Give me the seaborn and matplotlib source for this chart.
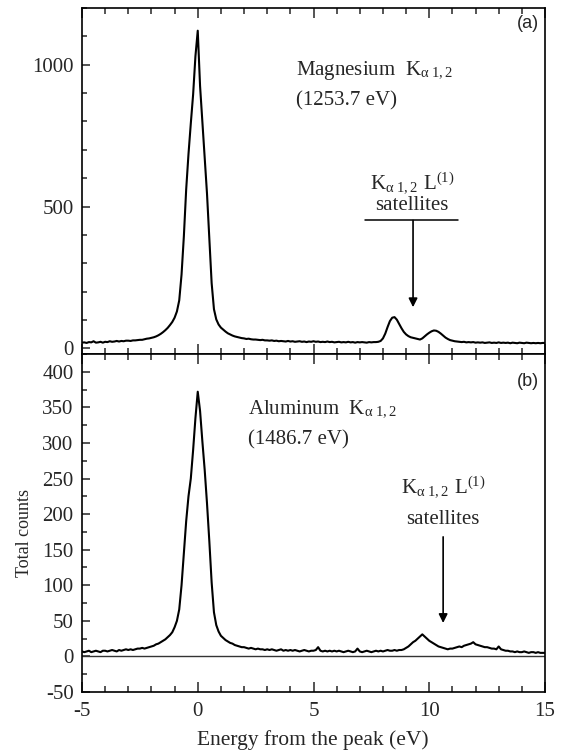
import numpy as np
import pandas as pd
import matplotlib
matplotlib.use("Agg")
import matplotlib.pyplot as plt
from matplotlib.ticker import MultipleLocator
import seaborn as sns

# ---------------- data ----------------
# energy grid (eV from the peak), 0.1 eV sampling from -5 to 15
energy = np.round(np.arange(-50, 151) / 10.0, 1)

# Magnesium K-alpha 1,2 total counts (panel a)
mg_counts = [
    20, 21, 19, 22, 21, 25, 20, 21, 23, 20,      # -5.0 .. -4.1
    23, 22, 25, 23, 24, 26, 24, 26, 25, 27,      # -4.0 .. -3.1
    27, 26, 28, 28, 29, 30, 30, 32, 34, 35,      # -3.0 .. -2.1
    37, 39, 42, 46, 51, 57, 64, 72, 82, 93,      # -2.0 .. -1.1
    108, 130, 169, 260, 395, 560, 685, 793, 895, 1030,  # -1.0 .. -0.1
    1120, 925, 800, 680, 545, 390, 230, 138, 102, 84,   # 0.0 .. 0.9
    73, 66, 59, 53, 49, 45, 42, 40, 38, 36,      # 1.0 .. 1.9
    35, 33, 34, 32, 31, 31, 30, 29, 30, 28,      # 2.0 .. 2.9
    28, 27, 28, 26, 27, 25, 26, 25, 24, 26,      # 3.0 .. 3.9
    24, 25, 23, 24, 25, 23, 24, 22, 24, 23,      # 4.0 .. 4.9
    25, 23, 24, 22, 23, 22, 24, 22, 23, 21,      # 5.0 .. 5.9
    22, 23, 21, 22, 21, 23, 21, 22, 20, 22,      # 6.0 .. 6.9
    21, 22, 21, 20, 22, 21, 22, 22, 23, 26,      # 7.0 .. 7.9
    35, 52, 75, 96, 108, 110, 101, 86, 71, 58,   # 8.0 .. 8.9
    49, 43, 39, 37, 35, 33, 31, 35, 42, 49,      # 9.0 .. 9.9
    55, 60, 63, 62, 58, 52, 45, 38, 33, 29,      # 10.0 .. 10.9
    27, 25, 24, 23, 22, 23, 21, 22, 21, 22,      # 11.0 .. 11.9
    20, 21, 20, 21, 19, 20, 21, 19, 20, 19,      # 12.0 .. 12.9
    21, 19, 20, 19, 20, 18, 20, 19, 18, 20,      # 13.0 .. 13.9
    19, 18, 20, 19, 18, 19, 18, 19, 18, 19,      # 14.0 .. 14.9
    19,                                          # 15.0
]

# Aluminum K-alpha 1,2 total counts (panel b)
al_counts = [
    7, 6, 7, 8, 6, 7, 8, 7, 6, 8,                # -5.0 .. -4.1
    8, 7, 8, 9, 8, 7, 9, 8, 9, 10,               # -4.0 .. -3.1
    9, 10, 9, 10, 11, 11, 12, 11, 12, 13,        # -3.0 .. -2.1
    14, 15, 17, 18, 20, 22, 24, 27, 30, 34,      # -2.0 .. -1.1
    41, 50, 66, 100, 145, 190, 225, 250, 290, 335,  # -1.0 .. -0.1
    372, 345, 302, 262, 215, 162, 104, 62, 44, 35,  # 0.0 .. 0.9
    29, 26, 23, 21, 19, 18, 16, 15, 14, 13,      # 1.0 .. 1.9
    13, 12, 11, 12, 11, 10, 11, 10, 10, 9,       # 2.0 .. 2.9
    10, 9, 10, 9, 8, 9, 10, 8, 9, 8,             # 3.0 .. 3.9
    9, 8, 9, 8, 7, 8, 9, 8, 7, 8,                # 4.0 .. 4.9
    8, 9, 13, 8, 7, 8, 7, 8, 7, 8,               # 5.0 .. 5.9
    7, 8, 7, 6, 7, 8, 7, 6, 7, 11,               # 6.0 .. 6.9
    7, 6, 7, 8, 7, 6, 7, 8, 7, 8,                # 7.0 .. 7.9
    7, 8, 9, 8, 8, 9, 8, 9, 9, 10,               # 8.0 .. 8.9
    12, 14, 17, 20, 22, 25, 28, 31, 28, 25,      # 9.0 .. 9.9
    22, 20, 18, 16, 14, 13, 12, 11, 10, 11,      # 10.0 .. 10.9
    11, 12, 13, 14, 13, 15, 16, 17, 18, 20,      # 11.0 .. 11.9
    17, 16, 15, 14, 13, 13, 12, 11, 11, 10,      # 12.0 .. 12.9
    14, 10, 9, 8, 8, 7, 7, 6, 7, 6,              # 13.0 .. 13.9
    6, 7, 6, 5, 6, 6, 5, 6, 5, 5,                # 14.0 .. 14.9
    5,                                           # 15.0
]

x_ticks = [-5, 0, 5, 10, 15]
x_ticklabels = ["-5", "0", "5", "10", "15"]
top_yticks = [0, 500, 1000]
bottom_yticks = [-50, 0, 50, 100, 150, 200, 250, 300, 350, 400]

df_mg = pd.DataFrame({"energy": energy, "counts": mg_counts})
df_al = pd.DataFrame({"energy": energy, "counts": al_counts})

# ---------------- style ----------------
sns.set_style("ticks")
plt.rcParams["font.family"] = ["Liberation Serif", "DejaVu Serif"]
plt.rcParams["mathtext.fontset"] = "stix"
plt.rcParams["axes.unicode_minus"] = False

W, H = 567, 753
fig = plt.figure(figsize=(W / 100, H / 100), dpi=100)

left, right = 82, 545
ax1 = fig.add_axes([left / W, 1 - 354 / H, (right - left) / W, (354 - 8) / H])
ax2 = fig.add_axes([left / W, 1 - 692 / H, (right - left) / W, (692 - 354) / H])

line_kw = dict(color="black", linewidth=1.5, legend=False)
sns.lineplot(data=df_mg, x="energy", y="counts", ax=ax1, **line_kw)
sns.lineplot(data=df_al, x="energy", y="counts", ax=ax2, **line_kw)
ax2.axhline(0, color="#333333", linewidth=1.0, zorder=1)

for ax in (ax1, ax2):
    ax.set_xlim(-5, 15)
    ax.set_xlabel("")
    ax.set_ylabel("")
    ax.xaxis.set_major_locator(MultipleLocator(5))
    ax.xaxis.set_minor_locator(MultipleLocator(1))
    ax.tick_params(axis="x", which="both", direction="in", top=True, bottom=True,
                   labelsize=15, pad=7)
    ax.tick_params(axis="x", which="major", length=7, width=1.1)
    ax.tick_params(axis="x", which="minor", length=4.5, width=1.1)
    ax.tick_params(axis="y", which="both", direction="in", left=True, right=False,
                   labelsize=15, pad=6)
    ax.tick_params(axis="y", which="major", length=5.5, width=1.1)
    ax.tick_params(axis="y", which="minor", length=3.5, width=1.1)
    for s in ax.spines.values():
        s.set_visible(True)
        s.set_linewidth(1.2)
        s.set_color("black")

ax1.set_ylim(-20, 1200)
ax1.set_yticks(top_yticks)
ax1.yaxis.set_minor_locator(MultipleLocator(100))
ax1.tick_params(axis="x", labelbottom=False)

ax2.set_ylim(-50, 425)
ax2.set_yticks(bottom_yticks)
ax2.yaxis.set_minor_locator(MultipleLocator(25))
ax2.set_xticks(x_ticks)
ax2.set_xticklabels(x_ticklabels)

# ---------------- annotations ----------------
sub = r"K$_{\mathregular{\alpha\ 1,2}}$"
sans = ["Liberation Sans", "DejaVu Sans"]

# panel (a)
ax1.text(0.988, 0.955, "(a)", transform=ax1.transAxes, ha="right", va="center",
         fontsize=13, family=sans)
ax1.text(4.25, 980, "Magnesium  " + sub, ha="left", va="center", fontsize=15)
ax1.text(4.25, 873, "(1253.7 eV)", ha="left", va="center", fontsize=15)
ax1.text(9.26, 580, sub + r" L$^{\mathregular{(1)}}$", ha="center", va="center", fontsize=15)
ax1.text(9.26, 505, "satellites", ha="center", va="center", fontsize=15)
ax1.plot([7.22, 11.24], [451, 451], color="black", linewidth=1.1)
ax1.annotate("", xy=(9.3, 145), xytext=(9.3, 451),
             arrowprops=dict(arrowstyle="-|>", color="black", lw=1.2,
                             mutation_scale=13, shrinkA=0, shrinkB=0))

# panel (b)
ax2.text(0.988, 0.92, "(b)", transform=ax2.transAxes, ha="right", va="center",
         fontsize=13, family=sans)
ax2.text(2.17, 348, "Aluminum  " + sub, ha="left", va="center", fontsize=15)
ax2.text(2.17, 305, "(1486.7 eV)", ha="left", va="center", fontsize=15)
ax2.text(10.6, 238, sub + r" L$^{\mathregular{(1)}}$", ha="center", va="center", fontsize=15)
ax2.text(10.6, 193, "satellites", ha="center", va="center", fontsize=15)
ax2.annotate("", xy=(10.6, 47), xytext=(10.6, 168),
             arrowprops=dict(arrowstyle="-|>", color="black", lw=1.2,
                             mutation_scale=13, shrinkA=0, shrinkB=0))

# axis labels
fig.text(25 / W, 1 - 533 / H, "Total counts", rotation=90, ha="center", va="center",
         fontsize=13)
fig.text(313 / W, 1 - 740 / H, "Energy from the peak (eV)", ha="center", va="center",
         fontsize=15.5)

fig.savefig("out.png", dpi=100)
